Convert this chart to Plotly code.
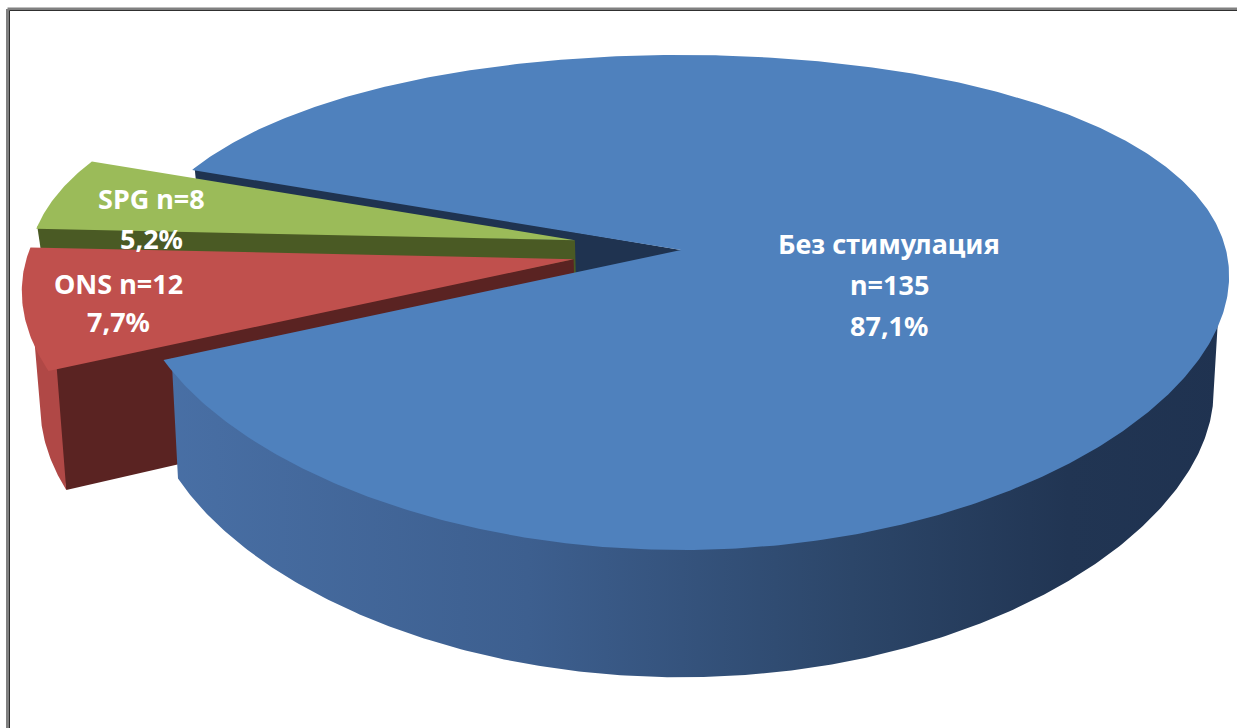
import numpy as np
import plotly.graph_objects as go

# Patients by stimulation group
labels = ["Без стимулация", "ONS", "SPG"]
counts = [135, 12, 8]
explode = [0.0, 0.2, 0.2]          # pull-out of each slice, fraction of radius

top_colors = ["#4f81bd", "#c0504d", "#9bbb59"]
edge_colors = ["#1f3350", "#5a2322", "#4a5a24"]
wall_scales = [
    [[0, "#4970a6"], [0.35, "#3d5f8f"], [0.65, "#2c4669"], [0.85, "#213553"], [1, "#1f3250"]],
    [[0, "#b04846"], [1, "#a5413f"]],
    [[0, "#7f9a45"], [1, "#6f883c"]],
]

# 3D pie projection (screen pixels)
CX, CY = 681.0, 250.0
A, B = 545.0, 236.4
P = 0.212          # perspective strength along the depth axis
KX = 0.5           # horizontal share of the perspective
D = 113.0          # wall height
S = 0.972          # bottom rim is slightly narrower than the top rim
START = 291.4      # angle of the first slice, clockwise from the far side
W, H = 1237, 728


def proj(u, v, bottom=False):
    u = np.asarray(u, float)
    v = np.asarray(v, float)
    w = 1 - P * v
    x = A * u / w ** KX
    y = B * v / w
    if bottom:
        x = x * S
        y = y + D / np.sqrt(w)
    return CX + x, CY + y


def circ(phi, r=1.0, off=(0.0, 0.0)):
    t = np.radians(phi)
    return off[0] + r * np.sin(t), off[1] - r * np.cos(t)


total = sum(counts)
fracs = np.array(counts) / total
edges = START + 360 * np.concatenate([[0], np.cumsum(fracs)])

faces = []   # (depth, trace)
tops = []

for i in range(len(counts)):
    a0, a1 = edges[i], edges[i + 1]
    mid = 0.5 * (a0 + a1)
    off = circ(mid, explode[i])
    n = max(int((a1 - a0) / 0.5), 8)
    phis = np.linspace(a0, a1, n)

    # top face
    uu, vv = circ(phis, 1.0, off)
    tx, ty = proj(np.concatenate([[off[0]], uu, [off[0]]]),
                  np.concatenate([[off[1]], vv, [off[1]]]))
    tops.append(go.Scatter(x=tx, y=ty, mode="lines", fill="toself",
                           fillcolor=top_colors[i], line=dict(width=0),
                           hoverinfo="skip", showlegend=False))

    # outer wall: keep segments facing the viewer
    txs, tys = proj(uu, vv)
    bxs, bys = proj(uu, vv, bottom=True)
    vis = []
    for j in range(n - 1):
        ex, ey = txs[j + 1] - txs[j], tys[j + 1] - tys[j]
        dx, dy = bxs[j] - txs[j], bys[j] - tys[j]
        vis.append(ex * dy - ey * dx < 0)
    j = 0
    while j < n - 1:
        if not vis[j]:
            j += 1
            continue
        k = j
        while k < n - 1 and vis[k]:
            k += 1
        run = phis[j:k + 1]
        iu, iv = circ(run, 0.985, off)
        ou, ov = circ(run, 1.0, off)
        x1, y1 = proj(iu, iv)
        x2, y2 = proj(ou[::-1], ov[::-1], bottom=True)
        xs = np.concatenate([x1, x2, x1[:1]])
        ys = np.concatenate([y1, y2, y1[:1]])
        tr = go.Scatter(x=xs, y=ys, mode="lines", fill="toself",
                        fillgradient=dict(type="horizontal", colorscale=wall_scales[i],
                                          start=150, stop=1230),
                        line=dict(width=0), hoverinfo="skip", showlegend=False)
        faces.append((float(np.mean(ov)), tr))
        j = k

    # radial cut faces
    for ang, inward, sign in ((a0, 0.6, -1), (a1, -0.6, 1)):
        pu, pv = circ(ang, 1.0, off)
        cxt, cyt = proj(off[0], off[1])
        pxt, pyt = proj(pu, pv)
        pxb, pyb = proj(pu, pv, bottom=True)
        cr = (pxt - cxt) * (pyb - pyt) - (pyt - cyt) * (pxb - pxt)
        if sign * cr <= 0:
            continue
        qu, qv = circ(ang + inward, 1.0, off)
        qx, qy = proj(qu, qv)
        cxb, cyb = proj(off[0], off[1], bottom=True)
        xs = [cxt, qx, pxb, cxb, cxt]
        ys = [cyt, qy, pyb, cyb, cyt]
        tr = go.Scatter(x=xs, y=ys, mode="lines", fill="toself",
                        fillcolor=edge_colors[i], line=dict(width=0),
                        hoverinfo="skip", showlegend=False)
        faces.append((0.5 * (off[1] + pv), tr))

fig = go.Figure()
for _, tr in sorted(faces, key=lambda f: f[0]):
    fig.add_trace(tr)
for tr in tops:
    fig.add_trace(tr)

# data labels
label_lines = [
    [labels[0], f"n={counts[0]}", f"{100 * fracs[0]:.1f}".replace(".", ",") + "%"],
    [f"{labels[1]} n={counts[1]}", f"{100 * fracs[1]:.1f}".replace(".", ",") + "%"],
    [f"{labels[2]} n={counts[2]}", f"{100 * fracs[2]:.1f}".replace(".", ",") + "%"],
]
label_pos = [(889, [243, 284, 325]), (118, [283, 321]), (151, [198, 238])]
for lines, (lx, lys) in zip(label_lines, label_pos):
    for txt, ly in zip(lines, lys):
        fig.add_annotation(x=lx, y=ly, text=f"<b>{txt}</b>", showarrow=False,
                           xanchor="center", yanchor="middle",
                           font=dict(family="Noto Sans", size=27, color="white"))

# frame
fig.add_shape(type="line", x0=7.5, y0=9, x1=W + 5, y1=9, line=dict(color="#808080", width=3))
fig.add_shape(type="line", x0=7.5, y0=9, x1=7.5, y1=H + 5, line=dict(color="#808080", width=3))
fig.add_shape(type="line", x0=9.5, y0=10.5, x1=W + 5, y1=10.5, line=dict(color="#303030", width=1))
fig.add_shape(type="line", x0=9.5, y0=10.5, x1=9.5, y1=H + 5, line=dict(color="#303030", width=1))

fig.update_layout(
    width=W, height=H,
    margin=dict(l=0, r=0, t=0, b=0),
    paper_bgcolor="white", plot_bgcolor="white",
    xaxis=dict(range=[0, W], visible=False, fixedrange=True),
    yaxis=dict(range=[H, 0], visible=False, fixedrange=True),
    showlegend=False,
)

fig.write_html("out.html")
